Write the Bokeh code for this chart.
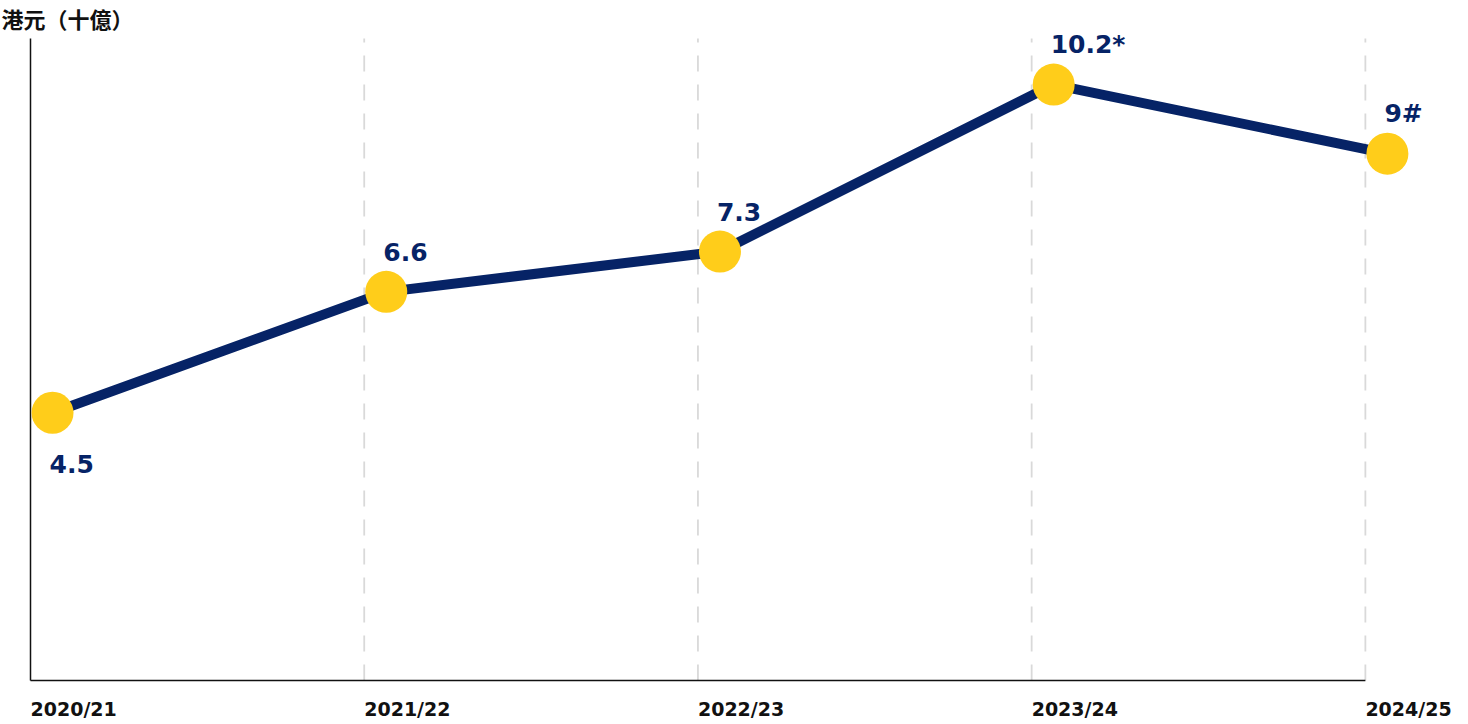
from bokeh.plotting import figure
from bokeh.models import ColumnDataSource, Range1d, LabelSet, Label
from bokeh.transform import dodge
from bokeh.core.properties import value
from bokeh.embed import file_html
from bokeh.resources import INLINE

# ---- data ----
years = ["2020/21", "2021/22", "2022/23", "2023/24", "2024/25"]
amounts = [4.5, 6.6, 7.3, 10.2, 9.0]
point_labels = ["4.5", "6.6", "7.3", "10.2*", "9#"]
label_side = ["below", "above", "above", "above", "above"]
unit_title = "港元（十億）"

NAVY = "#062366"
YELLOW = "#FFCD1A"
INK = "#111111"

W, H = 1468, 724
BASE, TOP = -0.15, 11.0          # value range covered by the axes
n = len(years)
idx = list(range(n))
offsets = [-51 if s == "below" else 40 for s in label_side]

src = ColumnDataSource(dict(idx=idx, amount=amounts, label=point_labels, yoff=offsets))
cat_src = ColumnDataSource(dict(idx=idx, year=years, base=[BASE] * n))
grid_src = ColumnDataSource(dict(x=idx[1:], y0=[BASE] * (n - 1), y1=[TOP] * (n - 1)))

# frame covers the whole canvas; axes are drawn as plain lines within it
p = figure(width=W, height=H, output_backend="svg", toolbar_location=None,
           x_range=Range1d(-0.0899, 4.309), y_range=Range1d(-0.914, 11.66),
           min_border=0)
p.title.visible = False
p.xaxis.visible = False
p.yaxis.visible = False
p.xgrid.visible = False
p.ygrid.visible = False
p.outline_line_color = None
p.border_fill_color = "white"

# dashed vertical guides
p.segment(x0="x", x1="x", y0="y0", y1="y1", source=grid_src,
          line_color="#d9d9d9", line_width=1.8, line_dash="16 13")
# axis lines
p.segment(x0=[0], x1=[n - 1], y0=[BASE], y1=[BASE], line_color=INK, line_width=1.5)
p.segment(x0=[0], x1=[0], y0=[BASE], y1=[TOP], line_color=INK, line_width=1.5)

xs = dodge("idx", 0.066, range=p.x_range)
p.line(x=xs, y="amount", source=src, line_color=NAVY, line_width=10)
p.scatter(x=xs, y="amount", source=src, size=42, fill_color=YELLOW, line_color=None)

p.add_layout(LabelSet(x=xs, y="amount", text="label", source=src, y_offset="yoff", x_offset=-3,
                      text_align="left", text_baseline="middle", text_font=value("DejaVu Sans"),
                      text_font_style="bold", text_font_size="25px", text_color=NAVY))

p.add_layout(LabelSet(x="idx", y="base", text="year", source=cat_src, y_offset=-28, x_offset=0,
                      text_align="left", text_baseline="middle", text_font=value("DejaVu Sans"),
                      text_font_style="bold", text_font_size="19px", text_color=INK))

p.add_layout(Label(x=1, y=H - 17, x_units="screen", y_units="screen", text=unit_title,
                   text_align="left", text_baseline="middle", text_font="Noto Sans CJK TC",
                   text_font_style="bold", text_font_size="22px", text_color=INK))

open("out.html", "w").write(file_html(p, INLINE))
